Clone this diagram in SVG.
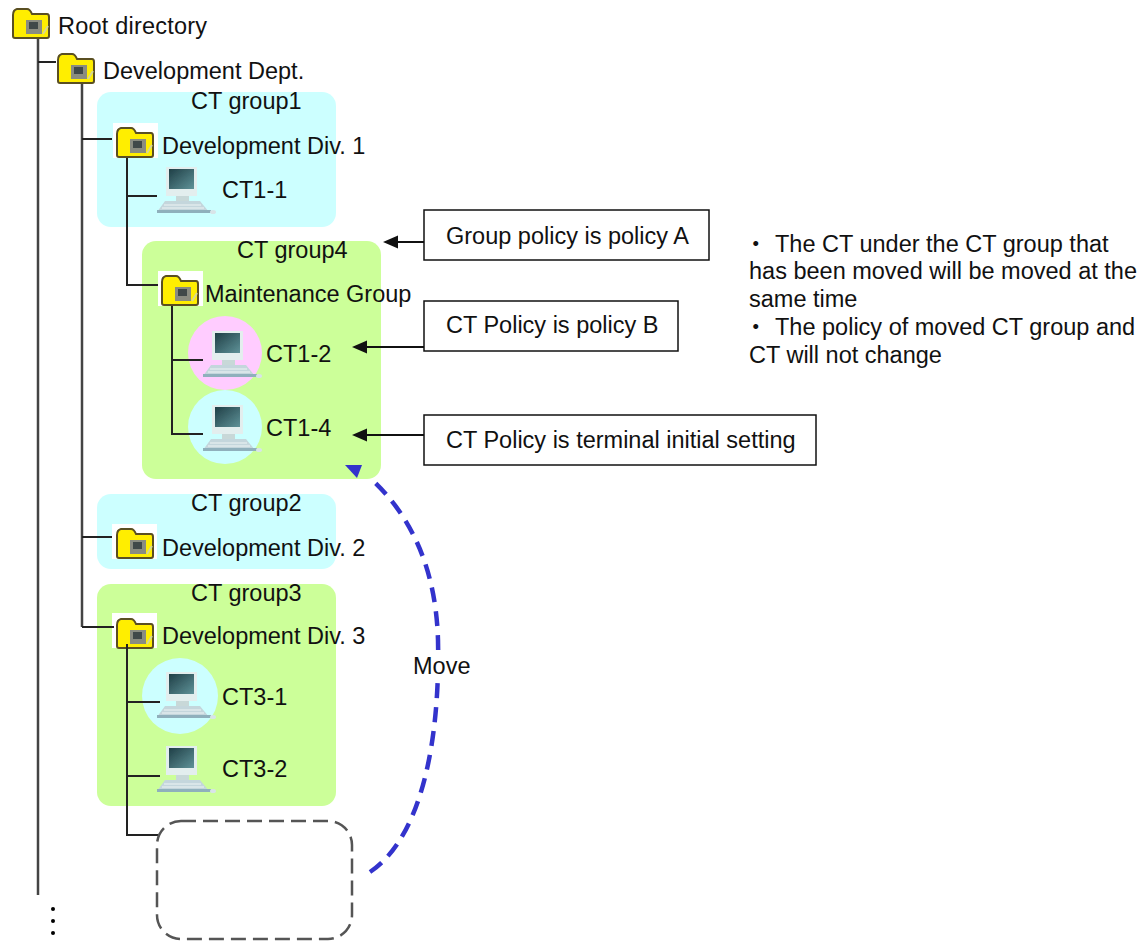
<svg xmlns="http://www.w3.org/2000/svg" width="1148" height="941" viewBox="0 0 1148 941">
<style>
text{font-family:"Liberation Sans",Arial,"Noto Sans CJK JP",sans-serif;font-size:23.5px;fill:#111}
.tree{fill:none;stroke:#222;stroke-width:2}
.trunk{fill:none;stroke:#444;stroke-width:2.5}
.call{fill:none;stroke:#111;stroke-width:2;marker-end:url(#ah)}
.box{fill:#fff;stroke:#111;stroke-width:1.5}
.cyan{fill:#ccffff}.green{fill:#ccff99}
</style>
<defs>
<filter id="soft" x="-10%" y="-10%" width="120%" height="120%"><feGaussianBlur stdDeviation="0.5"/></filter>
<linearGradient id="scr" x1="0" y1="0" x2="1" y2="1"><stop offset="0" stop-color="#1f3f46"/><stop offset="1" stop-color="#5f9298"/></linearGradient>
<marker id="ah" markerUnits="userSpaceOnUse" markerWidth="16" markerHeight="14" refX="0" refY="7" orient="auto"><path d="M0 0.5L15 7L0 13.5Z" fill="#111"/></marker>
<symbol id="folder" width="38" height="32" viewBox="0 0 38 32" overflow="visible">
<g filter="url(#soft)">
<path d="M1 8Q1 3 5 2H15Q18 2 20 7H35Q37 7 37 10V29Q37 31 35 31H3Q1 31 1 29Z" fill="#ffee00" stroke="#5a5020" stroke-width="2"/>
<rect x="14" y="13" width="16" height="14" fill="#8a8c80"/><rect x="17" y="15" width="9" height="7" fill="#3f4a4a"/>
<path d="M31 27L36 19" stroke="#d8d890" stroke-width="2"/>
</g>
</symbol>
<symbol id="pc" width="60" height="48" viewBox="0 0 60 48" overflow="visible">
<g filter="url(#soft)">
<rect x="9" y="0" width="31" height="29" fill="#e3eeee"/>
<rect x="12" y="2" width="25" height="20" fill="url(#scr)"/>
<rect x="19" y="29" width="13" height="5" fill="#c8d8d8"/>
<path d="M8 34H43L52 45H0Z" fill="#c4d6dc"/>
<path d="M7 38H44M5 41H47" stroke="#eef4f4"/>
<rect x="0" y="43" width="54" height="3" fill="#8fb0bc"/><ellipse cx="56" cy="45" rx="3" ry="2" fill="#d8e4e8"/>
</g>
</symbol>
</defs>

<g id="regions">
<rect id="ct-group1" class="cyan" x="97" y="92" width="239" height="135" rx="14"/>
<rect id="ct-group4" class="green" x="142" y="241" width="239" height="238" rx="14"/>
<rect id="ct-group2" class="cyan" x="97" y="494" width="239" height="75" rx="14"/>
<rect id="ct-group3" class="green" x="97" y="584" width="239" height="222" rx="14"/>
<circle cx="225" cy="353" r="37" fill="#ffccff"/>
<circle cx="225" cy="427" r="37" fill="#ccffff"/>
<circle cx="180" cy="696" r="38" fill="#ccffff"/>
<rect x="113" y="123" width="45" height="35" fill="#fff"/>
<rect x="158" y="271" width="45" height="35" fill="#fff"/>
<rect x="112" y="524" width="45" height="35" fill="#fff"/>
<rect x="112" y="613" width="45" height="35" fill="#fff"/>
</g>

<g id="folders-under">
<use href="#folder" x="116" y="527"/>
<use href="#folder" x="116" y="617"/>
</g>

<g id="connectors">
<path class="trunk" d="M38 38V895"/><path class="tree" d="M38 62H56"/>
<path class="trunk" d="M82 84V627"/><path class="tree" d="M82 139H112M82 537H112M82 627H114"/>
<path class="tree" d="M127 158V285H158M127 196H157"/>
<path class="tree" d="M172 304V434H203M172 360H203"/>
<path class="tree" d="M127 644V835H158M127 702H160M127 776H160"/>
<path class="call" d="M424 242H398"/>
<path class="call" d="M424 347H367"/>
<path class="call" d="M424 435H367"/>
<path d="M370 872C425 835 440 730 438 640C436 570 412 516 370 478" fill="none" stroke="#3333cc" stroke-width="4.5" stroke-dasharray="15 9"/>
<path d="M345 465L362 465L357 478Z" fill="#3333cc"/>
</g>

<g id="root"><use href="#folder" x="12" y="7"/><text x="58" y="34" textLength="149">Root directory</text></g>
<g id="dev-dept"><use href="#folder" x="57" y="52"/><text x="103" y="79">Development Dept.</text></g>
<g id="label-group1"><text x="191" y="109">CT group1</text></g>
<g id="dev-div1"><use href="#folder" x="116" y="126"/><text x="162" y="154">Development Div. 1</text></g>
<g id="ct1-1"><use href="#pc" x="157" y="167"/><text x="222" y="198">CT1-1</text></g>
<g id="label-group4"><text x="237" y="258">CT group4</text></g>
<g id="maint"><use href="#folder" x="161" y="274"/><text x="205" y="302">Maintenance Group</text></g>
<g id="ct1-2"><use href="#pc" x="203" y="331"/><text x="266" y="362">CT1-2</text></g>
<g id="ct1-4"><use href="#pc" x="203" y="405"/><text x="266" y="436">CT1-4</text></g>
<g id="label-group2"><text x="191" y="511">CT group2</text></g>
<g id="dev-div2"><text x="162" y="556">Development Div. 2</text></g>
<g id="label-group3"><text x="191" y="601">CT group3</text></g>
<g id="dev-div3"><text x="162" y="644">Development Div. 3</text></g>
<g id="ct3-1"><use href="#pc" x="157" y="672"/><text x="222" y="705">CT3-1</text></g>
<g id="ct3-2"><use href="#pc" x="157" y="746"/><text x="222" y="777">CT3-2</text></g>
<g id="placeholder"><rect x="157" y="821" width="195" height="118" rx="24" fill="#fff" stroke="#555" stroke-width="2.5" stroke-dasharray="15 7"/></g>
<g id="dots"><circle cx="53" cy="909" r="2" fill="#000"/><circle cx="53" cy="921" r="2" fill="#000"/><circle cx="53" cy="933" r="2" fill="#000"/></g>
<g id="move"><rect x="413" y="650" width="57" height="30" fill="#fff"/><text x="413" y="674">Move</text></g>
<g id="note-a"><rect class="box" x="424" y="210" width="285" height="50"/><text x="446" y="244">Group policy is policy A</text></g>
<g id="note-b"><rect class="box" x="424" y="301" width="254" height="50"/><text x="446" y="333">CT Policy is policy B</text></g>
<g id="note-c"><rect class="box" x="424" y="415" width="392" height="50"/><text x="446" y="448">CT Policy is terminal initial setting</text></g>
<g id="note-text">
<text x="744" y="252">・</text><text x="775" y="252">The CT under the CT group that</text>
<text x="749" y="279">has been moved will be moved at the</text>
<text x="749" y="307">same time</text>
<text x="744" y="335">・</text><text x="775" y="335">The policy of moved CT group and</text>
<text x="749" y="363">CT will not change</text>
</g>
</svg>
